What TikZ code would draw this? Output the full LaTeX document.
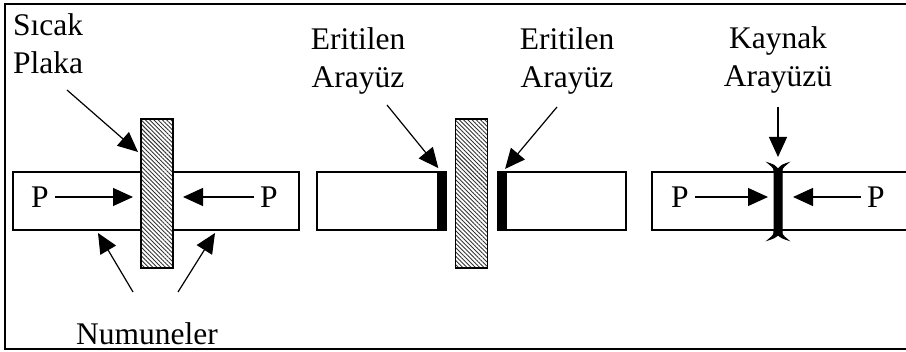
\documentclass[tikz,border=0pt]{standalone}
\usepackage{fontspec}
\setmainfont{Liberation Serif}
\usetikzlibrary{arrows.meta,patterns.meta}

\begin{document}
\begin{tikzpicture}[
    x=1pt, y=-1pt,
    spec/.style={draw, rectangle, line width=1.3pt, minimum height=58pt, inner sep=0pt, outer sep=0pt},
    plate/.style={draw, line width=1.3pt, pattern={Lines[angle=-45, distance=3pt, line width=0.9pt]}, pattern color=black!80, minimum width=32pt, minimum height=149pt, inner sep=0pt, outer sep=0pt},
    band/.style={fill=black, minimum width=9pt, minimum height=58pt, inner sep=0pt, outer sep=0pt},
    lbl/.style={align=center, inner sep=0pt, font=\fontsize{31.5}{38}\selectfont},
    force/.style={inner sep=6pt, font=\fontsize{31.5}{38}\selectfont},
    arrow/.style={-{Triangle[length=20pt, width=18pt]}, line width=1.2pt}
]
    \useasboundingbox (0,0) rectangle (906,352);
    \clip (0,0) rectangle (906,352);

    % Frame (open on the right)
    \draw[line width=2.5pt] (912,4) -- (5,4) -- (5,349) -- (912,349);

    % Step 1: hot plate between the samples
    \node[spec, minimum width=128pt] (s1l) at (77,201) {};
    \node[spec, minimum width=126pt] (s1r) at (236,201) {};
    \node[plate] (plate1) at (157,193.5) {};

    \node[force] (p1l) at (40,197) {P};
    \node[force] (p1r) at (269,197) {P};
    \draw[arrow, shorten >=8pt] (p1l) -- (p1l -| plate1.west);
    \draw[arrow, shorten >=10pt] (p1r) -- (p1r -| plate1.east);

    \node[lbl, align=left, anchor=base west] (hot) at (13,74) {Sıcak\\Plaka};
    \coordinate (hottail) at (67,90);
    \draw[arrow] (hottail) -- ([shift={(-3,33)}]plate1.north west);

    \node[lbl, anchor=base] (num) at (147,345) {Numuneler};
    \coordinate (numtl) at (133,292);
    \coordinate (numtr) at (178,292);
    \draw[arrow] (numtl) -- ([shift={(21,3)}]s1l.south);
    \draw[arrow] (numtr) -- ([shift={(-21,3)}]s1r.south);

    % Step 2: melted interfaces
    \node[spec, minimum width=129pt] (s2l) at (381.5,201) {};
    \node[band, anchor=east] (m2l) at (s2l.east) {};
    \node[spec, minimum width=128pt] (s2r) at (562,201) {};
    \node[band, anchor=west] (m2r) at (s2r.west) {};
    \node[plate] (plate2) at (471.5,193.5) {};

    \node[lbl, anchor=base] (mel1) at (358,88) {Eritilen\\Arayüz};
    \node[lbl, anchor=base] (mel2) at (567,88) {Eritilen\\Arayüz};
    \coordinate (mel1tail) at (387,105);
    \coordinate (mel2tail) at (557,107);
    \draw[arrow, shorten >=5pt] (mel1tail) -- (m2l.north);
    \draw[arrow, shorten >=4pt] (mel2tail) -- (m2r.north);

    % Step 3: joined under pressure
    \node[spec, minimum width=126pt] (s3l) at (715,201) {};
    \node[spec, minimum width=134pt] (s3r) at (845,201) {};
    \filldraw[line width=1pt] (774,172) .. controls (774,168) .. (768,163)
        .. controls (774,165) .. (778,169) .. controls (782,165) .. (788,163)
        .. controls (782,168) .. (782,172) -- (782,231)
        .. controls (782,235) .. (788,240) .. controls (782,238) .. (778,235)
        .. controls (774,238) .. (768,240) .. controls (774,235) .. (774,231) -- cycle;
    \coordinate (weld) at (778,165);

    \node[lbl, anchor=base] (kay) at (778,87) {Kaynak\\Arayüzü};
    \draw[arrow, shorten <=13pt, shorten >=8pt] (kay) -- (weld);

    \node[force] (p3l) at (680,197) {P};
    \node[force] (p3r) at (876,197) {P};
    \draw[arrow, shorten >=10pt] (p3l) -- (p3l -| weld);
    \draw[arrow, shorten >=15pt] (p3r) -- (p3r -| weld);

\end{tikzpicture}
\end{document}
